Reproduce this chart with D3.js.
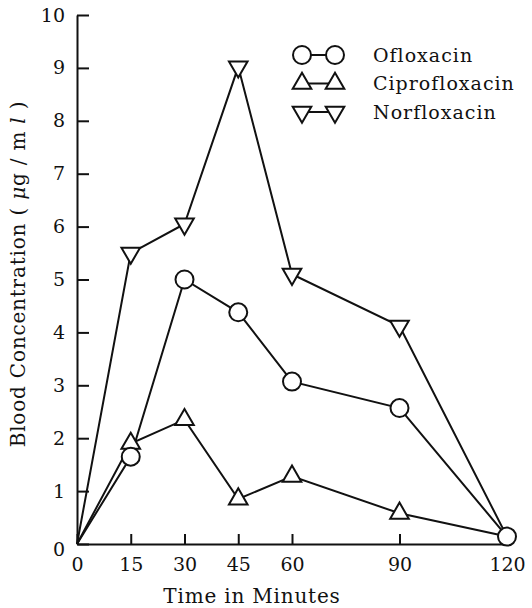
<!DOCTYPE html>
<html lang="en">
<head>
<meta charset="utf-8" />
<title>Blood concentration</title>
<script src="https://d3js.org/d3.v7.min.js"></script>
<style>
  body { margin: 0; background: #fff; }
  text { font-family: "DejaVu Serif", serif; fill: #111; }
</style>
</head>
<body>
<div id="chart"></div>
<script>
// values
const minutes = [0, 15, 30, 45, 60, 90, 120];
const xTicks = [0, 15, 30, 45, 60, 90, 120];
const yTicks = [0, 1, 2, 3, 4, 5, 6, 7, 8, 9, 10];
const ofloxacin = [0, 1.65, 5.0, 4.38, 3.07, 2.57, 0.14];
const ciprofloxacin = [0, 1.9, 2.35, 0.85, 1.28, 0.58, 0.14];
const norfloxacin = [0, 5.5, 6.05, 9.02, 5.1, 4.12, 0.14];
const seriesNames = ["Ofloxacin", "Ciprofloxacin", "Norfloxacin"];

const W = 532, H = 608;
const svg = d3.select("#chart").append("svg")
    .attr("width", W).attr("height", H);

const x = d3.scaleLinear().domain([0, 120]).range([77, 507]);
const y = d3.scaleLinear().domain([0, 10]).range([544, 15]);

// axes (ticks point inward)
const xAxis = d3.axisBottom(x).tickValues(xTicks).tickSizeInner(-10).tickSizeOuter(0).tickPadding(14);
const yAxis = d3.axisLeft(y).tickValues(yTicks).tickSizeInner(-12).tickSizeOuter(0).tickPadding(10);

const gx = svg.append("g").attr("transform", `translate(0,${y(0)})`).call(xAxis);
const gy = svg.append("g").attr("transform", `translate(${x(0)},0)`).call(yAxis);
[gx, gy].forEach(g => {
  g.select(".domain").attr("stroke", "#111").attr("stroke-width", 2);
  g.selectAll(".tick line").attr("stroke", "#111").attr("stroke-width", 2);
  g.selectAll(".tick text").style("font-size", "19px").attr("fill", "#111");
});
gy.selectAll(".tick text").attr("dx", -2);
gy.select(".tick text").attr("dy", "0.6em"); // the 0 sits a little low

// axis titles
svg.append("text")
    .attr("x", 252).attr("y", 603)
    .attr("text-anchor", "middle")
    .style("font-size", "20px")
    .style("letter-spacing", "0.8px")
    .text("Time in Minutes");

const yt = svg.append("text")
    .attr("transform", "translate(25,274) rotate(-90)")
    .attr("text-anchor", "middle")
    .style("font-size", "20px")
    .style("letter-spacing", "0.8px");
yt.append("tspan").text("Blood  Concentration ( ");
yt.append("tspan").style("font-style", "italic").text("μ");
yt.append("tspan").text("g / m ");
yt.append("tspan").style("font-style", "italic").text("l");
yt.append("tspan").text(" )");

const line = d3.line().x(d => x(d[0])).y(d => y(d[1]));
const allSeries = [ofloxacin, ciprofloxacin, norfloxacin].map(v => minutes.map((m, i) => [m, v[i]]));

svg.append("g").selectAll("path")
    .data(allSeries)
    .join("path")
    .attr("d", line)
    .attr("fill", "none")
    .attr("stroke", "#111")
    .attr("stroke-width", 2);

const triUp = d3.symbol().type(d3.symbolTriangle).size(150);
function drawMarker(g, k, px, py) {
  if (k === 0) {
    g.append("circle").attr("cx", px).attr("cy", py).attr("r", 9)
      .attr("fill", "#fff").attr("stroke", "#111").attr("stroke-width", 2);
  } else {
    g.append("path").attr("d", triUp())
      .attr("transform", `translate(${px},${py})` + (k === 2 ? " rotate(180)" : ""))
      .attr("fill", "#fff").attr("stroke", "#111").attr("stroke-width", 2);
  }
}

// markers: none at the origin; at 120 the triangles sit under the circle
const mk = svg.append("g");
[1, 2, 0].forEach(k => {
  allSeries[k].forEach(([m, v]) => {
    if (m === 0) return;
    if (m === 120 && k !== 0) return;
    drawMarker(mk, k, x(m), y(v));
  });
});

// legend
const lg = svg.append("g");
seriesNames.forEach((name, k) => {
  const ly = 55 + k * 28.5;
  lg.append("line").attr("x1", 302).attr("x2", 335).attr("y1", ly).attr("y2", ly)
    .attr("stroke", "#111").attr("stroke-width", 2);
  drawMarker(lg, k, 302, ly);
  drawMarker(lg, k, 335, ly);
  lg.append("text").attr("x", 373).attr("y", ly).attr("dy", "0.35em")
    .style("font-size", "19px")
    .style("letter-spacing", "1px")
    .text(name);
});
</script>
</body>
</html>
